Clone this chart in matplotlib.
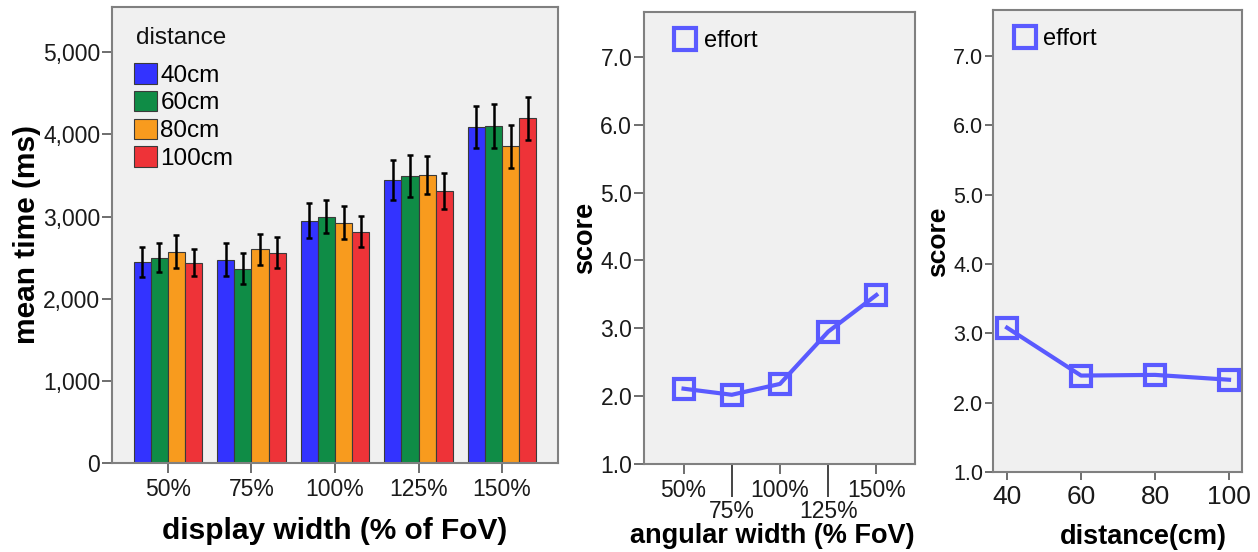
import numpy as np
import matplotlib.pyplot as plt
from matplotlib.ticker import FuncFormatter
from matplotlib.lines import Line2D

plt.rcParams['font.family'] = ['Liberation Sans', 'DejaVu Sans']

# --- data ---
widths = ["50%", "75%", "100%", "125%", "150%"]
distances = ["40cm", "60cm", "80cm", "100cm"]
time_40 = [2450, 2475, 2950, 3440, 4085]
time_60 = [2500, 2365, 3000, 3490, 4100]
time_80 = [2570, 2600, 2925, 3510, 3855]
time_100 = [2440, 2560, 2815, 3315, 4195]
err_40 = [185, 205, 210, 245, 255]
err_60 = [175, 190, 195, 255, 265]
err_80 = [200, 185, 200, 230, 260]
err_100 = [165, 190, 190, 220, 260]

effort_width = [2.11, 2.02, 2.18, 2.95, 3.49]
dist_cm = [40, 60, 80, 100]
effort_dist = [3.08, 2.39, 2.40, 2.33]

bar_colors = ["#3333ff", "#0f8c46", "#f89b1e", "#ee3338"]
line_color = "#5a5aff"
bg = "#f0f0f0"
spine_col = "#808080"

W, H = 1258, 552
fig = plt.figure(figsize=(W / 100, H / 100), dpi=100)


def box(l, t, r, b):
    # pixel box -> figure fraction rect
    return [l / W, 1 - b / H, (r - l) / W, (b - t) / H]


def put_xlabel(ax, x, y):
    ax.xaxis.label.set_va("center")
    ax.xaxis.set_label_coords(x / W, 1 - y / H, transform=fig.transFigure)


def put_ylabel(ax, x, y):
    ax.yaxis.label.set_va("center")
    ax.yaxis.set_label_coords(x / W, 1 - y / H, transform=fig.transFigure)


def style_axes(ax):
    ax.set_facecolor(bg)
    for s in ax.spines.values():
        s.set_color(spine_col)
        s.set_linewidth(1.5)
    ax.tick_params(labelcolor="#1a1a1a", labelsize=16.5, width=1.2, color="#555555")


# ---------- panel 1: bars ----------
ax1 = fig.add_axes(box(112, 7, 558, 463))
style_axes(ax1)
x = np.arange(len(widths))
bw = 0.204
series = [time_40, time_60, time_80, time_100]
errs = [err_40, err_60, err_80, err_100]
for i in range(4):
    pos = x + (i - 1.5) * bw
    ax1.bar(pos, series[i], bw, color=bar_colors[i], edgecolor="#3a3a3a",
            linewidth=0.8, label=distances[i], zorder=2)
    ax1.errorbar(pos, series[i], yerr=errs[i], fmt="none", ecolor="black",
                 elinewidth=1.8, capsize=2.5, capthick=1.8, zorder=3)
ax1.set_xlim(-0.67, 4.67)
ax1.set_ylim(0, 5550)
ax1.set_yticks([0, 1000, 2000, 3000, 4000, 5000])
ax1.yaxis.set_major_formatter(FuncFormatter(lambda v, p: f"{int(v):,}"))
ax1.set_xticks(x)
ax1.set_xticklabels(widths)
ax1.tick_params(axis="x", length=7, pad=3.5)
ax1.tick_params(axis="y", length=7, pad=1.5)
ax1.set_ylabel("mean time (ms)", fontsize=21.5, fontweight="bold")
ax1.set_xlabel("display width (% of FoV)", fontsize=21.5, fontweight="bold")
put_ylabel(ax1, 27, 235)
put_xlabel(ax1, 335, 531)
ax1.text(136 / W, 1 - 38 / H, "distance", transform=fig.transFigure,
         fontsize=17.5, va="center", ha="left", color="#111111")
ax1.legend(loc="upper left", frameon=False, fontsize=17.5,
           handlelength=0.92, handleheight=0.92,
           handletextpad=0.15, labelspacing=0.17, borderaxespad=0.0,
           borderpad=0.0, bbox_to_anchor=(0.05, 0.877))


# ---------- panel 2: effort by angular width ----------
ax2 = fig.add_axes(box(644, 12, 915, 464))
style_axes(ax2)
xw = np.arange(len(widths))
ax2.plot(xw, effort_width, color=line_color, linewidth=3, marker="s",
         markersize=15, markerfacecolor="none", markeredgewidth=3,
         markeredgecolor=line_color)
ax2.set_xlim(-0.82, 4.8)
ax2.set_ylim(1.0, 7.66)
ax2.set_yticks([1, 2, 3, 4, 5, 6, 7])
ax2.yaxis.set_major_formatter(FuncFormatter(lambda v, p: f"{v:.1f}"))
ax2.set_xticks(xw[::2])
ax2.set_xticklabels(widths[::2])
ax2.set_xticks(xw[1::2], minor=True)
ax2.set_xticklabels(widths[1::2], minor=True)
ax2.tick_params(axis="x", which="major", length=7, pad=4)
ax2.tick_params(axis="x", which="minor", length=24, pad=2, labelsize=16.5,
                labelcolor="#1a1a1a", color="#444444", width=1.4)
ax2.tick_params(axis="y", length=7, pad=1.5)
ax2.set_ylabel("score", fontsize=19.5, fontweight="bold")
ax2.set_xlabel("angular width (% FoV)", fontsize=19.5, fontweight="bold")
put_ylabel(ax2, 585, 238)
put_xlabel(ax2, 772, 536)
h = [Line2D([], [], linestyle="none", marker="s", markersize=16,
            markerfacecolor="none", markeredgewidth=3, markeredgecolor=line_color)]
ax2.legend(h, ["effort"], loc="upper left", frameon=False, fontsize=17,
           handlelength=1.2, handletextpad=0.2, borderaxespad=0.0, borderpad=0.0,
           bbox_to_anchor=(0.1, 0.96))


# ---------- panel 3: effort by distance ----------
ax3 = fig.add_axes(box(993, 10, 1242, 472))
style_axes(ax3)
ax3.plot(dist_cm, effort_dist, color=line_color, linewidth=3, marker="s",
         markersize=15, markerfacecolor="none", markeredgewidth=3,
         markeredgecolor=line_color)
ax3.set_xlim(36.2, 103.5)
ax3.set_ylim(1.0, 7.66)
ax3.set_yticks([1, 2, 3, 4, 5, 6, 7])
ax3.yaxis.set_major_formatter(FuncFormatter(lambda v, p: f"{v:.1f}"))
ax3.set_xticks(dist_cm)
ax3.tick_params(axis="x", length=6, pad=3, labelsize=19)
ax3.tick_params(axis="y", length=6, pad=1, labelsize=15.5)
ax3.set_ylabel("score", fontsize=19, fontweight="bold")
ax3.set_xlabel("distance(cm)", fontsize=19.5, fontweight="bold")
put_ylabel(ax3, 938, 242)
put_xlabel(ax3, 1143, 537)
ax3.legend(h, ["effort"], loc="upper left", frameon=False, fontsize=17,
           handlelength=1.2, handletextpad=0.2, borderaxespad=0.0, borderpad=0.0,
           bbox_to_anchor=(0.07, 0.96))

fig.savefig("out.png", dpi=100)
